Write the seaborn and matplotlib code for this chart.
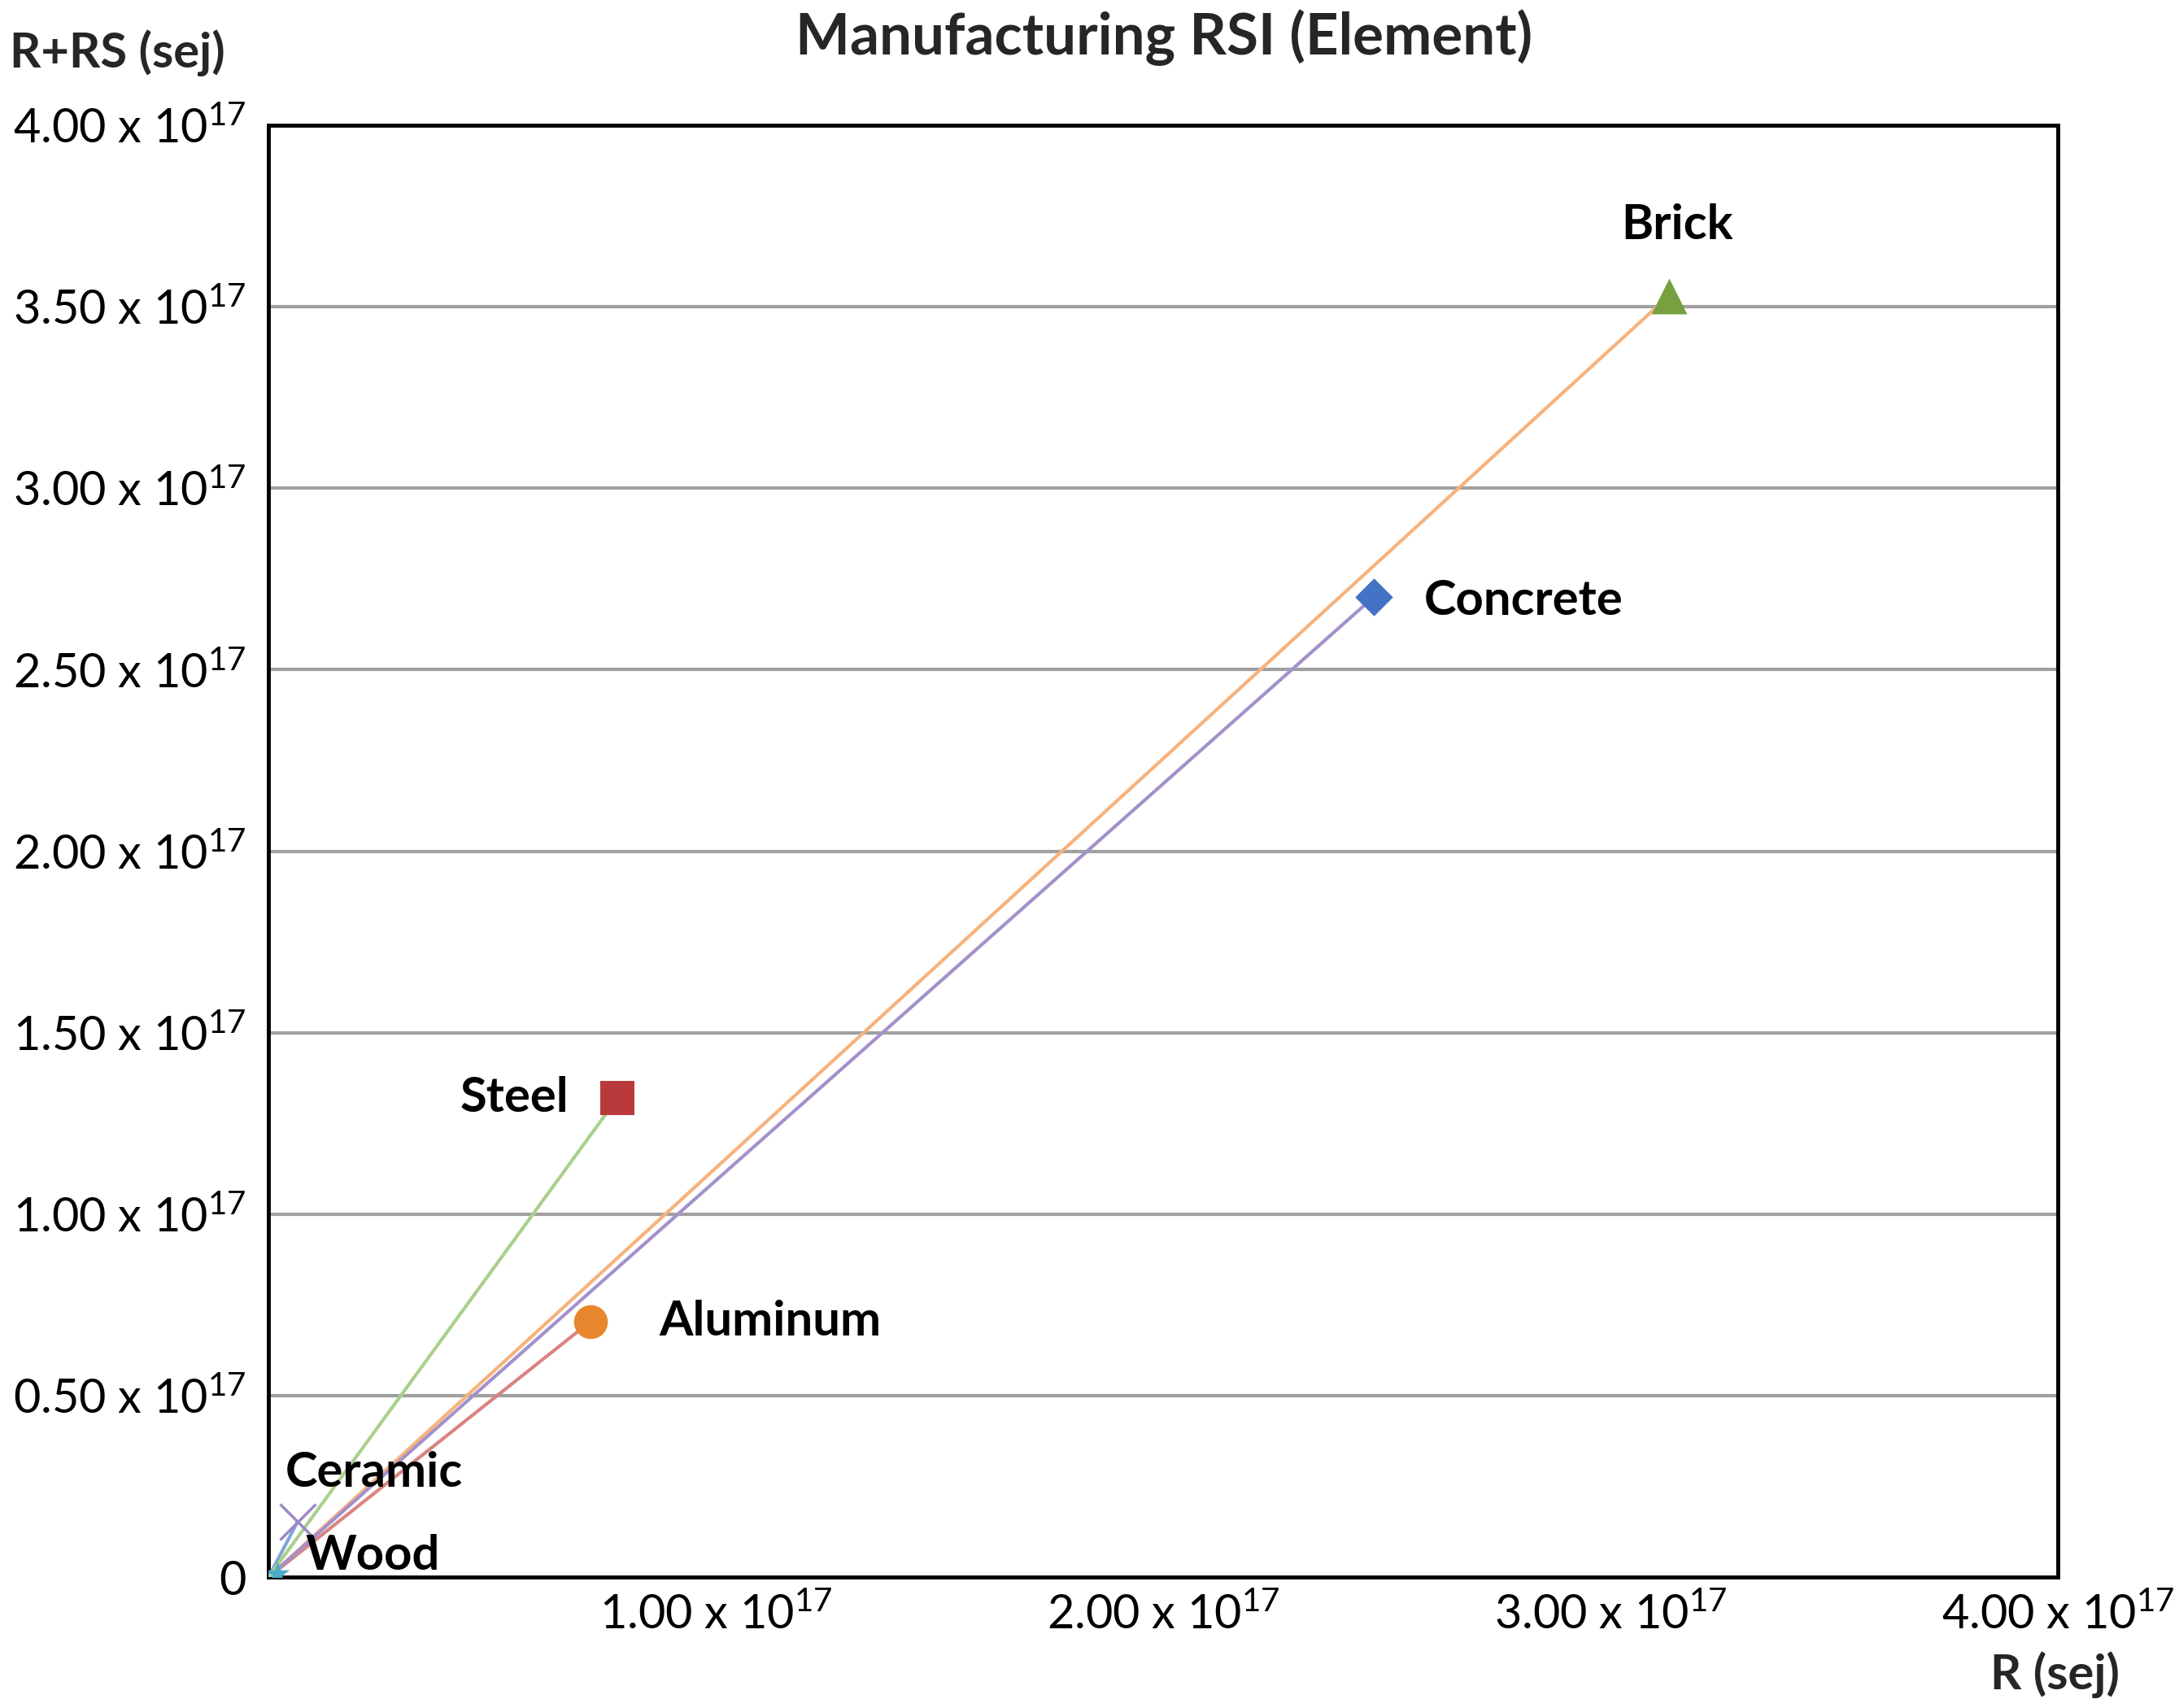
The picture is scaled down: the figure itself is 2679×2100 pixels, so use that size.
import pandas as pd
import matplotlib
matplotlib.use("Agg")
import matplotlib.pyplot as plt
import seaborn as sns

# data (units of 1e17 sej)
materials = ["Concrete", "Steel", "Brick", "Ceramic", "Wood", "Aluminum"]
r_values = [2.47, 0.78, 3.13, 0.065, 0.02, 0.72]
rrs_values = [2.70, 1.32, 3.53, 0.153, 0.01, 0.705]
tick_vals = [0, 0.5, 1.0, 1.5, 2.0, 2.5, 3.0, 3.5, 4.0]
xtick_vals = [1.0, 2.0, 3.0, 4.0]

marker_colors = {"Concrete": "#4472C4", "Steel": "#B83A3A", "Brick": "#77A03F",
                 "Ceramic": "#9A88C6", "Wood": "#4BACC6", "Aluminum": "#E8862E"}
line_colors = {"Concrete": "#A391CC", "Steel": "#A9D08E", "Brick": "#F7B27C",
               "Ceramic": "#7FA6D6", "Wood": "#8CD0E0", "Aluminum": "#D98482"}
markers = {"Concrete": "D", "Steel": "s", "Brick": "^", "Ceramic": "x",
           "Wood": "*", "Aluminum": "o"}
marker_sizes = {"Concrete": 560, "Steel": 900, "Brick": 1000, "Ceramic": 1000,
                "Wood": 500, "Aluminum": 900}
# label offsets in pixels and alignment
label_pos = {"Concrete": (62, -5, "left"), "Steel": (-60, 0, "right"),
             "Brick": (10, 87, "center"), "Ceramic": (-15, 60, "left"),
             "Wood": (34, 22, "left"), "Aluminum": (84, 0, "left")}

sns.set_theme(style="white")
plt.rcParams["font.family"] = ["Lato", "DejaVu Sans"]
plt.rcParams["mathtext.fontset"] = "custom"
plt.rcParams["mathtext.rm"] = "Lato"
plt.rcParams["mathtext.it"] = "Lato"

df = pd.DataFrame({"material": materials, "R": r_values, "RRS": rrs_values})
# each line runs from the origin to the material's point
lines = pd.concat([
    pd.DataFrame({"material": materials, "R": 0.0, "RRS": 0.0, "order": 0}),
    df.assign(order=1)
]).sort_values(["material", "order"])

fig = plt.figure(figsize=(26.79, 21.0), dpi=100)
ax = fig.add_axes([0.1232, 0.0765, 0.8213, 0.8502])

sns.lineplot(data=lines, x="R", y="RRS", hue="material", palette=line_colors,
             sort=False, estimator=None, linewidth=3, legend=False, ax=ax, zorder=3)

for m in materials:
    row = df[df.material == m]
    lw = 2.5 if m == "Ceramic" else 0
    sns.scatterplot(data=row, x="R", y="RRS", marker=markers[m], s=marker_sizes[m],
                    color=marker_colors[m], edgecolor=marker_colors[m] if m != "Ceramic" else None,
                    linewidth=lw, legend=False, ax=ax, zorder=4)
    dx, dy, ha = label_pos[m]
    ax.annotate(m, (row.R.iloc[0], row.RRS.iloc[0]), xytext=(dx, dy),
                textcoords="offset pixels", ha=ha, va="center",
                fontsize=43, fontweight="bold", color="black", zorder=5)

ax.set_xlim(0, 4.0)
ax.set_ylim(0, 4.0)
ax.set_yticks(tick_vals)
ax.set_yticklabels(["0"] + ["%.2f x 10$^{17}$" % v for v in tick_vals[1:]])
ax.set_xticks(xtick_vals)
ax.set_xticklabels(["%.2f x 10$^{17}$" % v for v in xtick_vals])
ax.tick_params(axis="both", length=0, labelsize=41.5, colors="black")
ax.tick_params(axis="y", pad=20)
ax.tick_params(axis="x", pad=14)
ax.set_xlabel("")
ax.set_ylabel("")

for y in tick_vals[1:-1]:
    ax.axhline(y, color="#A0A0A0", linewidth=3, zorder=1)

for sp in ax.spines.values():
    sp.set_color("black")
    sp.set_linewidth(3.5)

fig.text(0.534, 0.978, "Manufacturing RSI (Element)", ha="center", va="center",
         fontsize=51, fontweight="bold")
fig.text(0.054, 0.969, "R+RS (sej)", ha="center", va="center",
         fontsize=43, fontweight="bold")
fig.text(0.943, 0.0196, "R (sej)", ha="center", va="center",
         fontsize=43, fontweight="bold")

fig.savefig("out.png", dpi=100, facecolor="white")
